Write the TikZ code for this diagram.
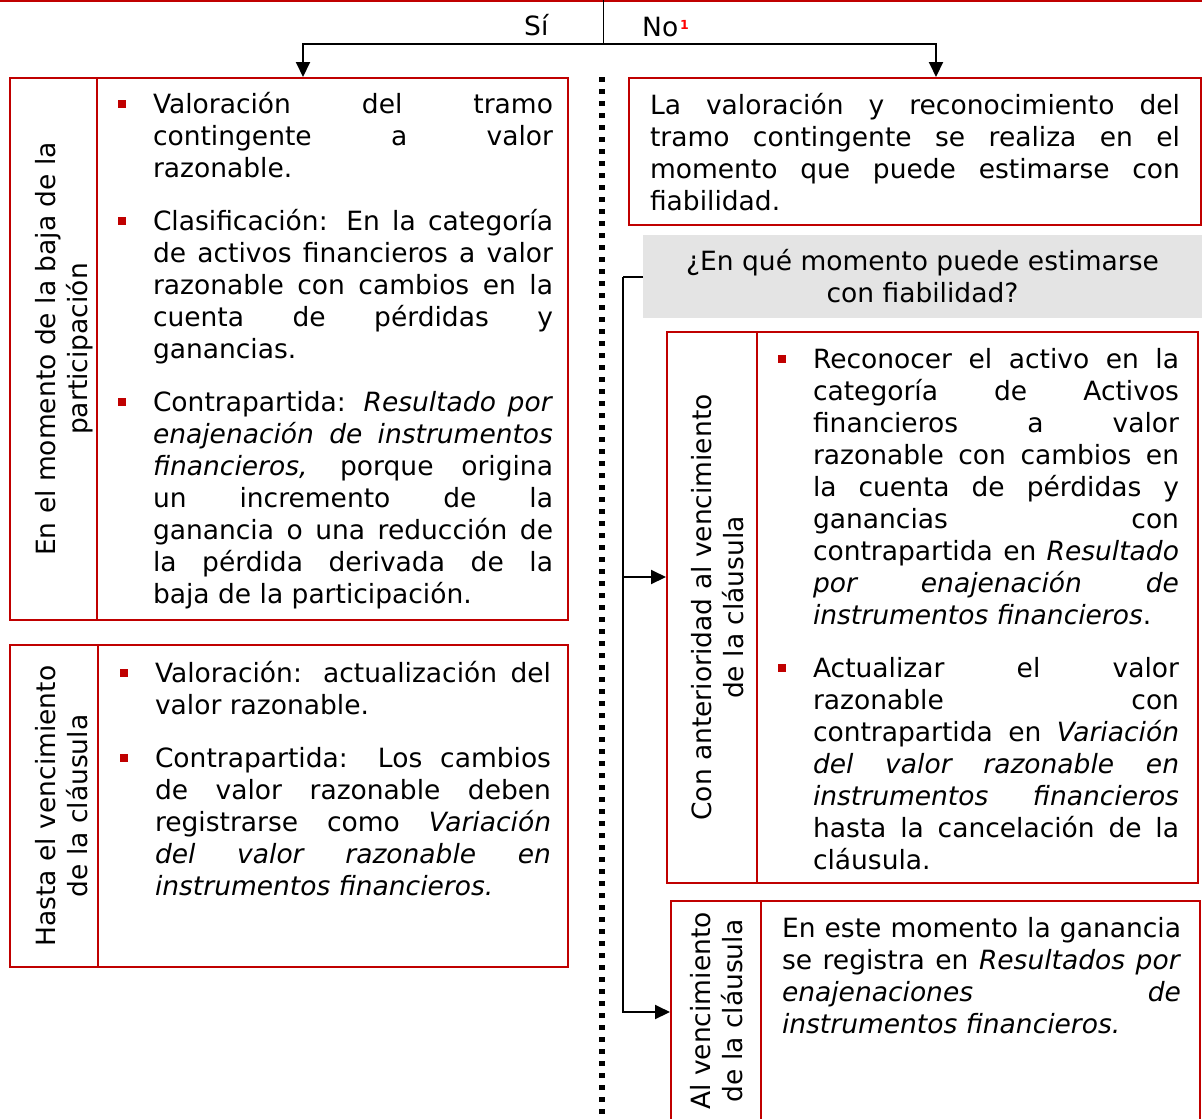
\documentclass[tikz,border=0pt]{standalone}
\usepackage{fontspec}
\setmainfont{DejaVu Sans}
\usetikzlibrary{arrows.meta,calc}
\definecolor{bred}{HTML}{C00000}
\definecolor{supred}{HTML}{FF0000}
\definecolor{gfill}{HTML}{E4E4E4}
\setlength{\parindent}{0pt}
\setlength{\parskip}{0pt}
\newcommand\fsz{\fontsize{26.5}{32}\selectfont}
\newcommand\JL[1]{\makebox[\hsize][s]{#1}\par}
\newcommand\EL[1]{\mbox{#1}\par}
\newcommand\BU{\llap{\textcolor{bred}{\rule[5.5pt]{7.5pt}{7.5pt}}\hspace{27.5pt}}}
\newcommand\ST{\rule{0pt}{24pt}}
\newcommand\GP{\vspace{21pt}}
\begin{document}
\begin{tikzpicture}[x=1pt,y=-1pt,
  box/.style={draw=bred, line width=2pt, inner sep=0pt, outer sep=0pt, anchor=north west},
  txt/.style={anchor=north west, inner sep=0pt, outer sep=0pt, text width=#1, font=\fsz, align=justify},
  lab/.style={rotate=90, align=center, inner sep=0pt, outer sep=0pt, font=\fsz},
  conn/.style={line width=2pt, draw=black},
  arr/.style={conn, -{Triangle[length=15pt,width=14pt]}, shorten >=1pt},
  dotl/.style={line width=5.5pt, dash pattern=on 5pt off 7pt},
  divl/.style={draw=bred, line width=2pt}]

\useasboundingbox (0,0) rectangle (1202,1119);

% top red rule
\draw[bred, line width=2.5pt] (0,1) -- (1202,1);

% dotted separator
\coordinate (d0) at (602,77);
\coordinate (d1) at (602,1125);
\draw[dotl] (d0) -- (d1);

% boxes
\node[box, minimum width=558pt, minimum height=542pt] (b1) at (10,78) {};
\draw[divl] ([xshift=87pt]b1.north west) -- ([xshift=87pt]b1.south west);
\node[box, minimum width=558pt, minimum height=322pt] (b2) at (10,645) {};
\draw[divl] ([xshift=88pt]b2.north west) -- ([xshift=88pt]b2.south west);
\node[box, minimum width=572pt, minimum height=147pt] (rt) at (629,78) {};
\node[anchor=north west, fill=gfill, minimum width=559pt, minimum height=83pt,
      inner sep=0pt, outer sep=0pt, font=\fsz, align=center] (g) at (643,235)
      {¿En qué momento puede estimarse\\con fiabilidad?};
\node[box, minimum width=531pt, minimum height=551pt] (b3) at (667,332) {};
\draw[divl] ([xshift=90pt]b3.north west) -- ([xshift=90pt]b3.south west);
\node[box, minimum width=529pt, minimum height=222pt] (b4) at (671,901) {};
\draw[divl] ([xshift=90pt]b4.north west) -- ([xshift=90pt]b4.south west);

% rotated labels
\node[lab] (l1) at (63.7,349) {En el momento de la baja de la\\participación};
\node[lab] (l2) at (62,806) {Hasta el vencimiento\\de la cláusula};
\node[lab] (l3) at (718,607.5) {Con anterioridad al vencimiento\\de la cláusula};
\node[lab] (l4) at (717,1011) {Al vencimiento\\de la cláusula};

% box texts
\node[txt=400pt] (t1) at (153,89) {%
\JL{\ST\BU Valoración del tramo}
\JL{contingente a valor}
\EL{razonable.}
\GP
\JL{\BU Clasificación: En la categoría}
\JL{de activos financieros a valor}
\JL{razonable con cambios en la}
\JL{cuenta de pérdidas y}
\EL{ganancias.}
\GP
\JL{\BU Contrapartida: \textit{Resultado por}}
\JL{\textit{enajenación de instrumentos}}
\JL{\textit{financieros,} porque origina}
\JL{un incremento de la}
\JL{ganancia o una reducción de}
\JL{la pérdida derivada de la}
\EL{baja de la participación.}};

\node[txt=396pt] (t2) at (155,658) {%
\JL{\ST\BU Valoración: actualización del}
\EL{valor razonable.}
\GP
\JL{\BU Contrapartida: Los cambios}
\JL{de valor razonable deben}
\JL{registrarse como \textit{Variación}}
\JL{\textit{del valor razonable en}}
\EL{\textit{instrumentos financieros.}}};

\node[txt=530pt] (t0) at (650,90) {%
\JL{\ST La valoración y reconocimiento del}
\JL{tramo contingente se realiza en el}
\JL{momento que puede estimarse con}
\EL{fiabilidad.}};

\node[txt=366pt] (t3) at (813,344) {%
\JL{\ST\BU Reconocer el activo en la}
\JL{categoría de Activos}
\JL{financieros a valor}
\JL{razonable con cambios en}
\JL{la cuenta de pérdidas y}
\JL{ganancias con}
\JL{contrapartida en \textit{Resultado}}
\JL{\textit{por enajenación de}}
\EL{\textit{instrumentos financieros}.}
\GP
\JL{\BU Actualizar el valor}
\JL{razonable con}
\JL{contrapartida en \textit{Variación}}
\JL{\textit{del valor razonable en}}
\JL{\textit{instrumentos financieros}}
\JL{hasta la cancelación de la}
\EL{cláusula.}};

\node[txt=399pt] (t4) at (782,913) {%
\JL{\ST En este momento la ganancia}
\JL{se registra en \textit{Resultados por}}
\JL{\textit{enajenaciones de}}
\EL{\textit{instrumentos financieros.}}};

% Sí / No
\node[anchor=base west, inner sep=0pt, font=\fsz] (si) at (524,35) {Sí};
\node[anchor=base west, inner sep=0pt, font=\fsz] (no) at (642,36)
  {No\kern2pt\raisebox{7pt}{\textcolor{supred}{\fontsize{12.5}{12.5}\selectfont\bfseries 1}}};

% top connectors
\coordinate (tc) at (603,0);
\coordinate (sp) at (603,43.5);
\draw[line width=1pt] (tc) -- (sp);
\draw[arr] (sp) -| ([xshift=293pt]b1.north west);
\draw[arr] (sp) -| ([xshift=307pt]rt.north west);

% grey question connectors
\draw[conn] (g.west) -- ++(-20,0) coordinate (gv);
\draw[arr] (gv) |- (b4.west);
\coordinate (b3in) at ([yshift=30.5pt]b3.west);
\draw[arr] (gv |- b3in) -- (b3in);
\end{tikzpicture}
\end{document}
